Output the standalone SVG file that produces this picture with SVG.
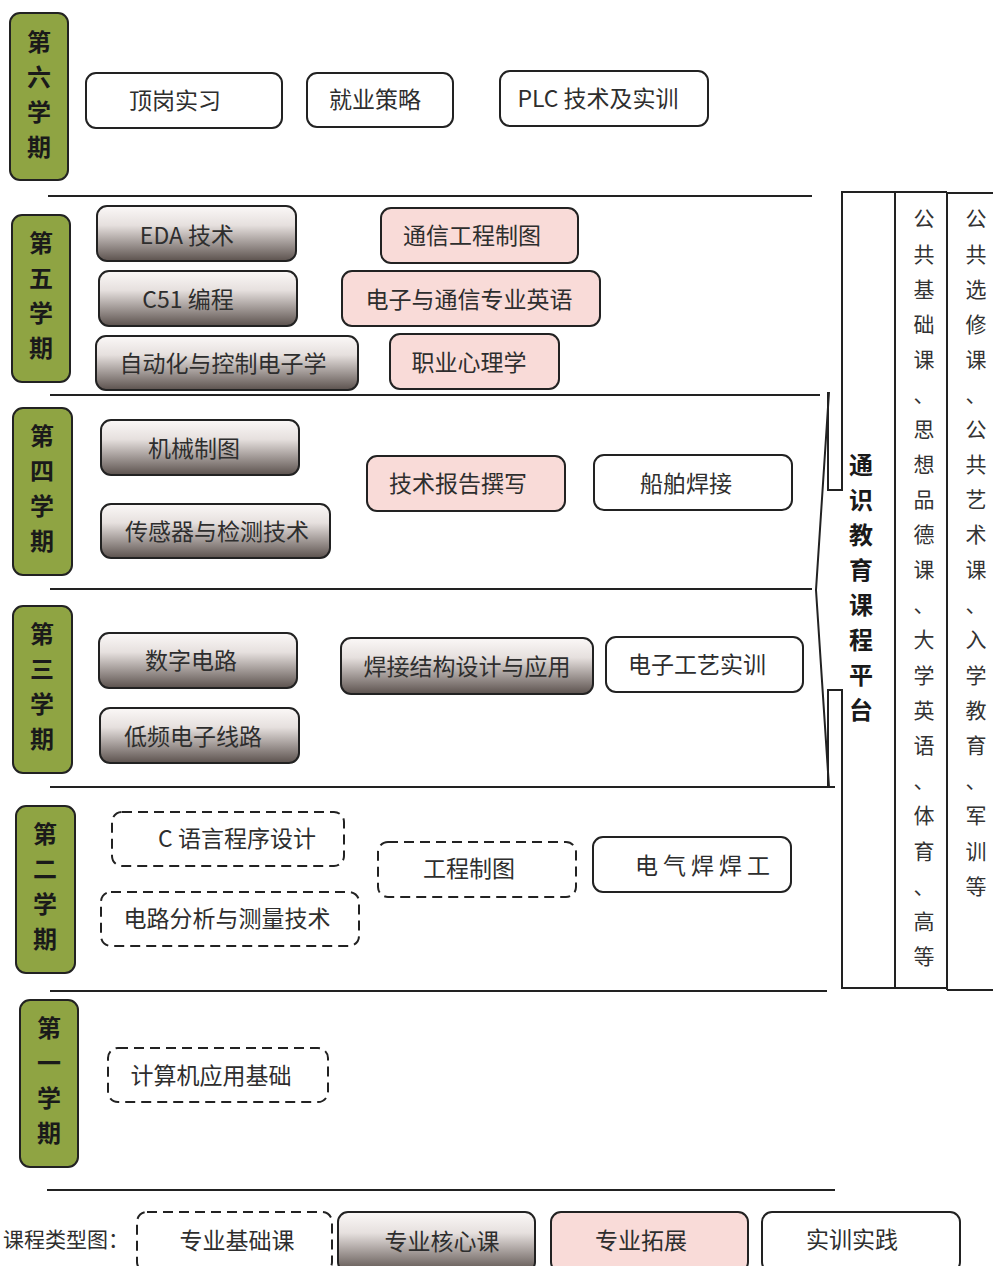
<svg xmlns="http://www.w3.org/2000/svg" width="993" height="1266" viewBox="0 0 993 1266">
<defs>
<linearGradient id="core" x1="0" y1="0" x2="0" y2="1">
<stop offset="0" stop-color="#fbf8f7"/>
<stop offset="0.35" stop-color="#e6e0de"/>
<stop offset="1" stop-color="#5c524e"/>
</linearGradient>
<style>
.sem{fill:#8fa443;stroke:#222;stroke-width:2}
.semt{font-family:"Noto Sans CJK SC",sans-serif;font-size:24px;font-weight:bold;fill:#1a1a1a;text-anchor:middle}
.box{stroke:#222;stroke-width:2}
.w{fill:#fff}
.p{fill:#f9dbd8}
.g{fill:url(#core)}
.d{fill:#fff;stroke-dasharray:10 6}
.t{font-family:"Noto Sans CJK SC",sans-serif;font-size:23px;fill:#2e2e2e;text-anchor:middle}
.ln{stroke:#222;stroke-width:2;fill:none}
.vt{font-family:"Noto Sans CJK SC",sans-serif;font-size:21px;fill:#333;text-anchor:middle}
.vb{font-family:"Noto Sans CJK SC",sans-serif;font-size:24px;font-weight:bold;fill:#1a1a1a;text-anchor:middle}
</style>
</defs>
<rect width="993" height="1266" fill="#fff"/>

<g id="connectors">
<line class="ln" x1="48" y1="196" x2="812" y2="196"/>
<line class="ln" x1="50" y1="395" x2="820" y2="395"/>
<line class="ln" x1="50" y1="589" x2="812" y2="589"/>
<line class="ln" x1="50" y1="787" x2="835" y2="787"/>
<line class="ln" x1="50" y1="991" x2="827" y2="991"/>
<line class="ln" x1="47" y1="1190" x2="835" y2="1190"/>
<polyline class="ln" points="829,392 816,590 829,787"/>
</g>

<g id="platform">
<path class="ln" stroke-width="2.5" d="M828 392 L828 490 L842 490 L842 192 L895 192"/>
<path class="ln" stroke-width="2.5" d="M828 787 L828 690 L842 690 L842 988 L895 988"/>
<line class="ln" stroke-width="3" x1="895" y1="192" x2="895" y2="988"/>
<text class="vb"><tspan x="861" y="474">通</tspan><tspan x="861" y="509">识</tspan><tspan x="861" y="544">教</tspan><tspan x="861" y="579">育</tspan><tspan x="861" y="614">课</tspan><tspan x="861" y="649">程</tspan><tspan x="861" y="684">平</tspan><tspan x="861" y="719">台</tspan></text>
</g>

<g id="public-basic">
<path class="ln" d="M895 192 L947 192 M895 988 L947 988"/>
<line class="ln" stroke-width="2.5" x1="947" y1="192" x2="947" y2="990"/>
<text class="vt"><tspan x="924" y="226">公</tspan><tspan x="924" y="262">共</tspan><tspan x="924" y="297">基</tspan><tspan x="924" y="332">础</tspan><tspan x="924" y="367">课</tspan><tspan x="924" y="402">、</tspan><tspan x="924" y="437">思</tspan><tspan x="924" y="472">想</tspan><tspan x="924" y="507">品</tspan><tspan x="924" y="542">德</tspan><tspan x="924" y="577">课</tspan><tspan x="924" y="612">、</tspan><tspan x="924" y="647">大</tspan><tspan x="924" y="683">学</tspan><tspan x="924" y="718">英</tspan><tspan x="924" y="753">语</tspan><tspan x="924" y="788">、</tspan><tspan x="924" y="823">体</tspan><tspan x="924" y="859">育</tspan><tspan x="924" y="894">、</tspan><tspan x="924" y="929">高</tspan><tspan x="924" y="964">等</tspan></text>
</g>

<g id="public-elective">
<path class="ln" d="M947 193 L993 193 M947 990 L993 990"/>
<text class="vt"><tspan x="976" y="226">公</tspan><tspan x="976" y="262">共</tspan><tspan x="976" y="297">选</tspan><tspan x="976" y="332">修</tspan><tspan x="976" y="367">课</tspan><tspan x="976" y="402">、</tspan><tspan x="976" y="437">公</tspan><tspan x="976" y="472">共</tspan><tspan x="976" y="507">艺</tspan><tspan x="976" y="542">术</tspan><tspan x="976" y="577">课</tspan><tspan x="976" y="612">、</tspan><tspan x="976" y="647">入</tspan><tspan x="976" y="683">学</tspan><tspan x="976" y="718">教</tspan><tspan x="976" y="753">育</tspan><tspan x="976" y="788">、</tspan><tspan x="976" y="823">军</tspan><tspan x="976" y="859">训</tspan><tspan x="976" y="894">等</tspan></text>
</g>

<g id="sem6"><rect class="sem" x="10" y="13" width="58" height="167" rx="10"/><text class="semt"><tspan x="39" y="51">第</tspan><tspan x="39" y="86">六</tspan><tspan x="39" y="121">学</tspan><tspan x="39" y="156">期</tspan></text></g>
<g id="sem5"><rect class="sem" x="12" y="215" width="58" height="167" rx="10"/><text class="semt"><tspan x="41" y="252">第</tspan><tspan x="41" y="287">五</tspan><tspan x="41" y="322">学</tspan><tspan x="41" y="357">期</tspan></text></g>
<g id="sem4"><rect class="sem" x="13" y="408" width="59" height="167" rx="10"/><text class="semt"><tspan x="42" y="445">第</tspan><tspan x="42" y="480">四</tspan><tspan x="42" y="515">学</tspan><tspan x="42" y="550">期</tspan></text></g>
<g id="sem3"><rect class="sem" x="13" y="606" width="59" height="167" rx="10"/><text class="semt"><tspan x="42" y="643">第</tspan><tspan x="42" y="678">三</tspan><tspan x="42" y="713">学</tspan><tspan x="42" y="748">期</tspan></text></g>
<g id="sem2"><rect class="sem" x="16" y="806" width="59" height="167" rx="10"/><text class="semt"><tspan x="45" y="843">第</tspan><tspan x="45" y="878">二</tspan><tspan x="45" y="913">学</tspan><tspan x="45" y="948">期</tspan></text></g>
<g id="sem1"><rect class="sem" x="20" y="1000" width="58" height="167" rx="10"/><text class="semt"><tspan x="49" y="1037">第</tspan><tspan x="49" y="1072">一</tspan><tspan x="49" y="1107">学</tspan><tspan x="49" y="1142">期</tspan></text></g>

<g id="n-dinggang"><rect class="box w" x="86" y="73" width="196" height="55" rx="10"/><text class="t" x="175" y="109">顶岗实习</text></g>
<g id="n-jiuye"><rect class="box w" x="307" y="73" width="146" height="54" rx="10"/><text class="t" x="375" y="108">就业策略</text></g>
<g id="n-plc"><rect class="box w" x="500" y="71" width="208" height="55" rx="10"/><text class="t" x="598" y="107">PLC 技术及实训</text></g>

<g id="n-eda"><rect class="box g" x="97" y="206" width="199" height="55" rx="10"/><text class="t" x="187" y="244">EDA 技术</text></g>
<g id="n-c51"><rect class="box g" x="99" y="271" width="198" height="55" rx="10"/><text class="t" x="188" y="308">C51 编程</text></g>
<g id="n-zdh"><rect class="box g" x="96" y="336" width="262" height="54" rx="10"/><text class="t" x="223" y="372">自动化与控制电子学</text></g>
<g id="n-txgc"><rect class="box p" x="381" y="208" width="197" height="55" rx="10"/><text class="t" x="472" y="244">通信工程制图</text></g>
<g id="n-yingyu"><rect class="box p" x="342" y="271" width="258" height="55" rx="10"/><text class="t" x="469" y="308">电子与通信专业英语</text></g>
<g id="n-xinli"><rect class="box p" x="390" y="334" width="169" height="55" rx="10"/><text class="t" x="469" y="371">职业心理学</text></g>

<g id="n-jixie"><rect class="box g" x="101" y="420" width="198" height="55" rx="10"/><text class="t" x="194" y="457">机械制图</text></g>
<g id="n-chuangan"><rect class="box g" x="101" y="504" width="229" height="54" rx="10"/><text class="t" x="217" y="540">传感器与检测技术</text></g>
<g id="n-baogao"><rect class="box p" x="367" y="456" width="198" height="55" rx="10"/><text class="t" x="458" y="492">技术报告撰写</text></g>
<g id="n-chuanbo"><rect class="box w" x="594" y="455" width="198" height="55" rx="10"/><text class="t" x="686" y="492">船舶焊接</text></g>

<g id="n-shuzi"><rect class="box g" x="99" y="633" width="198" height="55" rx="10"/><text class="t" x="191" y="669">数字电路</text></g>
<g id="n-dipin"><rect class="box g" x="100" y="708" width="199" height="55" rx="10"/><text class="t" x="193" y="745">低频电子线路</text></g>
<g id="n-hanjie"><rect class="box g" x="341" y="638" width="252" height="56" rx="10"/><text class="t" x="467" y="675">焊接结构设计与应用</text></g>
<g id="n-gongyi"><rect class="box w" x="606" y="637" width="197" height="55" rx="10"/><text class="t" x="697" y="673">电子工艺实训</text></g>

<g id="n-cyuyan"><rect class="box d" x="112" y="812" width="232" height="54" rx="10"/><text class="t" x="237" y="847">C 语言程序设计</text></g>
<g id="n-dianlu"><rect class="box d" x="101" y="892" width="258" height="54" rx="10"/><text class="t" x="227" y="927">电路分析与测量技术</text></g>
<g id="n-gczt"><rect class="box d" x="378" y="842" width="198" height="55" rx="10"/><text class="t" x="469" y="877">工程制图</text></g>
<g id="n-dianqi"><rect class="box w" x="593" y="837" width="198" height="55" rx="10"/><text class="t" x="705" y="874" letter-spacing="5">电气焊焊工</text></g>

<g id="n-jisuanji"><rect class="box d" x="108" y="1048" width="220" height="54" rx="10"/><text class="t" x="211" y="1084">计算机应用基础</text></g>

<g id="legend">
<text class="t" x="3" y="1247" style="text-anchor:start;font-size:21px">课程类型图：</text>
<rect class="box d" x="137" y="1212" width="195" height="60" rx="10"/><text class="t" x="237" y="1249">专业基础课</text>
<rect class="box g" x="338" y="1212" width="197" height="60" rx="10"/><text class="t" x="442" y="1250">专业核心课</text>
<rect class="box p" x="551" y="1212" width="197" height="60" rx="10"/><text class="t" x="641" y="1249">专业拓展</text>
<rect class="box w" x="762" y="1212" width="198" height="60" rx="10"/><text class="t" x="852" y="1248">实训实践</text>
</g>
</svg>
